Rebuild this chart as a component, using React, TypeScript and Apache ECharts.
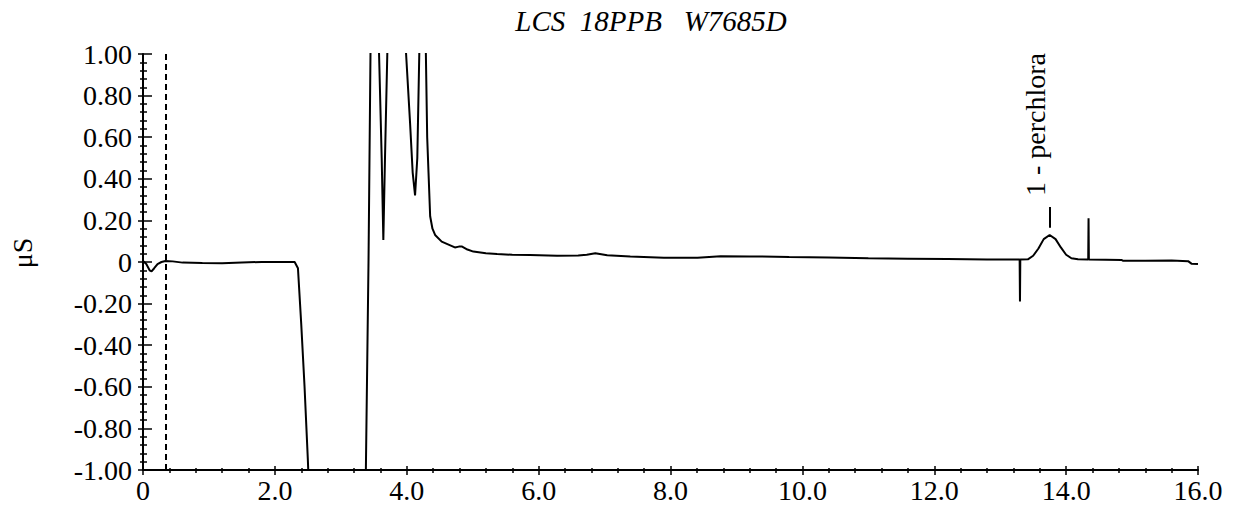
import React, { useEffect, useRef } from "react";
import * as echarts from "echarts";

const titleText = "LCS  18PPB   W7685D";
const yUnit = "μS";
const peakLabel = "1 - perchlora";

const xTicks = { min: 0, max: 16, interval: 2 };
const yTicks = { min: -1, max: 1, interval: 0.2 };

const solventFrontTime = 0.34;
const peakApex = [13.75, 0.165, 0.265];

const times = [
  0.0, 0.05, 0.1, 0.13, 0.17, 0.22, 0.28, 0.34, 0.45, 0.6, 0.9, 1.2, 1.5, 1.8, 2.1, 2.3,
  2.35, 2.4, 2.45, 2.5, 2.53, 2.6, 3.3, 3.36, 3.38, 3.42, 3.45, 3.47, 3.52, 3.57, 3.58,
  3.62, 3.645, 3.67, 3.705, 3.72, 3.8, 3.93, 3.99, 4.05, 4.09, 4.126, 4.16, 4.19, 4.21,
  4.24, 4.27, 4.29, 4.31, 4.33, 4.355, 4.39, 4.43, 4.53, 4.66, 4.73, 4.79, 4.84, 4.92,
  5.01, 5.2, 5.37, 5.6, 5.87, 6.28, 6.6, 6.73, 6.86, 7.04, 7.39, 7.9, 8.41, 8.76, 9.2,
  9.8, 10.4, 11.0, 11.6, 12.2, 12.8, 13.295, 13.3, 13.305, 13.42, 13.5, 13.58, 13.66,
  13.75, 13.84, 13.92, 14.0, 14.08, 14.18, 14.335, 14.34, 14.345, 14.6, 14.84, 14.86,
  15.2, 15.6, 15.85, 15.9, 16.0,
];

const signal = [
  0.005, -0.01, -0.04, -0.045, -0.03, -0.01, 0.0, 0.005, 0.003, -0.003, -0.005, -0.006,
  -0.002, 0.0, 0.0, 0.0, -0.03, -0.3, -0.6, -0.95, -1.2, -1.5, -1.5, -1.3, -1.0, 0.0, 1.0,
  1.4, 2.0, 1.3, 1.0, 0.5, 0.106, 0.5, 1.0, 1.3, 2.0, 1.5, 1.0, 0.67, 0.43, 0.32, 0.5,
  1.0, 1.3, 2.0, 1.5, 1.0, 0.6, 0.43, 0.22, 0.16, 0.13, 0.098, 0.08, 0.07, 0.074, 0.074,
  0.06, 0.05, 0.042, 0.038, 0.035, 0.034, 0.03, 0.031, 0.035, 0.042, 0.032, 0.026, 0.021,
  0.021, 0.028, 0.027, 0.024, 0.022, 0.018, 0.016, 0.014, 0.012, 0.012, -0.19, 0.012,
  0.013, 0.03, 0.065, 0.11, 0.13, 0.11, 0.07, 0.035, 0.018, 0.013, 0.012, 0.21, 0.012,
  0.011, 0.01, 0.006, 0.006, 0.007, 0.004, -0.008, -0.01,
];

const FONT = '"Liberation Serif", "Times New Roman", serif';

export default function App() {
  const ref = useRef<HTMLDivElement>(null);
  useEffect(() => {
    if (!ref.current) return;
    const chart = echarts.init(ref.current, undefined, { renderer: "svg" });
    const data = times.map((t, i) => [t, signal[i]]);
    const fmtX = (v: number) => (Math.abs(v) < 1e-9 ? "0" : v.toFixed(1));
    const fmtY = (v: number) => (Math.abs(v) < 1e-9 ? "0" : v.toFixed(2));
    const axisLine = { show: true, onZero: false, lineStyle: { color: "#000", width: 2 } };
    const hiddenLine = { show: false, onZero: false };
    const label = { color: "#000", fontFamily: FONT, fontSize: 28 };
    const tickStyle = { color: "#000", width: 1.5 };
    chart.setOption({
      animation: false,
      backgroundColor: "#fff",
      grid: { left: 143, right: 35, top: 54, bottom: 36, containLabel: false },
      xAxis: [
        {
          type: "value",
          position: "bottom",
          ...xTicks,
          axisLine,
          axisTick: { show: true, inside: false, length: 5, lineStyle: tickStyle },
          minorTick: { show: true, splitNumber: 5, length: 3, lineStyle: tickStyle },
          axisLabel: { ...label, margin: 6, formatter: fmtX },
          splitLine: { show: false },
        },
        {
          type: "value",
          position: "bottom",
          ...xTicks,
          axisLine: hiddenLine,
          axisTick: { show: true, inside: true, length: 4, lineStyle: tickStyle },
          minorTick: { show: true, splitNumber: 5, length: 2, lineStyle: tickStyle },
          axisLabel: { show: false },
          splitLine: { show: false },
        },
      ],
      yAxis: [
        {
          type: "value",
          position: "left",
          ...yTicks,
          axisLine,
          axisTick: { show: true, inside: false, length: 5, lineStyle: tickStyle },
          minorTick: { show: true, splitNumber: 5, length: 3, lineStyle: tickStyle },
          axisLabel: { ...label, margin: 11, formatter: fmtY },
          splitLine: { show: false },
        },
        {
          type: "value",
          position: "left",
          ...yTicks,
          axisLine: hiddenLine,
          axisTick: { show: true, inside: true, length: 9, lineStyle: tickStyle },
          minorTick: { show: true, splitNumber: 5, length: 4, lineStyle: tickStyle },
          axisLabel: { show: false },
          splitLine: { show: false },
        },
      ],
      graphic: [
        {
          type: "text",
          x: 651,
          y: 21,
          style: {
            text: titleText,
            font: `italic 29px ${FONT}`,
            fill: "#000",
            textAlign: "center",
            textVerticalAlign: "middle",
          },
        },
        {
          type: "text",
          x: 22,
          y: 253,
          rotation: Math.PI / 2,
          style: {
            text: yUnit,
            font: `28px ${FONT}`,
            fill: "#000",
            textAlign: "center",
            textVerticalAlign: "middle",
          },
        },
        {
          type: "text",
          x: 1035,
          y: 196,
          rotation: Math.PI / 2,
          style: {
            text: peakLabel,
            font: `28px ${FONT}`,
            fill: "#000",
            textAlign: "left",
            textVerticalAlign: "middle",
          },
        },
      ],
      series: [
        {
          type: "line",
          data,
          xAxisIndex: 0,
          yAxisIndex: 0,
          showSymbol: false,
          symbol: "none",
          clip: true,
          lineStyle: { color: "#000", width: 2 },
          markLine: {
            silent: true,
            symbol: ["none", "none"],
            label: { show: false },
            data: [
              { xAxis: solventFrontTime, lineStyle: { type: [6, 4], color: "#000", width: 2 } },
              [
                { coord: [peakApex[0], peakApex[1]], lineStyle: { type: "solid", color: "#000", width: 2 } },
                { coord: [peakApex[0], peakApex[2]] },
              ],
            ],
          },
        },
      ],
    });
    return () => chart.dispose();
  }, []);
  return (
    <div
      ref={ref}
      style={{ position: "fixed", left: 0, top: 0, width: 1233, height: 506, background: "#fff" }}
    />
  );
}
